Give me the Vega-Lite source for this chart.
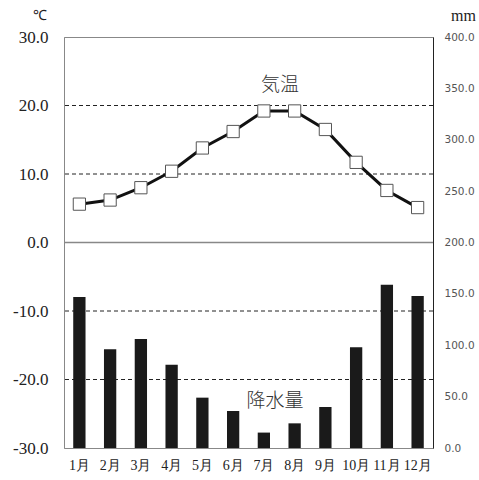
{
  "$schema": "https://vega.github.io/schema/vega-lite/v6.json",
  "width": 369,
  "height": 411,
  "autosize": {"type": "none"},
  "padding": {"left": 64, "top": 37, "right": 46, "bottom": 32},
  "background": "white",
  "config": {"view": {"stroke": "#888", "strokeWidth": 1}, "axis": {"grid": false}},
  "datasets": {
    "climate": [
      {"month": "1月", "temp": 5.6, "precip": 147},
      {"month": "2月", "temp": 6.2, "precip": 96},
      {"month": "3月", "temp": 8.0, "precip": 106},
      {"month": "4月", "temp": 10.4, "precip": 81},
      {"month": "5月", "temp": 13.8, "precip": 49},
      {"month": "6月", "temp": 16.2, "precip": 36},
      {"month": "7月", "temp": 19.2, "precip": 15},
      {"month": "8月", "temp": 19.2, "precip": 24},
      {"month": "9月", "temp": 16.5, "precip": 40},
      {"month": "10月", "temp": 11.7, "precip": 98},
      {"month": "11月", "temp": 7.6, "precip": 159},
      {"month": "12月", "temp": 5.1, "precip": 148}
    ],
    "grid": [{"v": -20}, {"v": -10}, {"v": 10}, {"v": 20}],
    "zero": [{"v": 0}],
    "labels": [
      {"month": "7月", "t": 23, "label": "気温"},
      {"month": "7月", "t": -23.1, "label": "降水量"}
    ]
  },
  "layer": [
    {
      "data": {"name": "grid"},
      "mark": {"type": "rule", "strokeDash": [4, 3], "color": "#222", "strokeWidth": 1},
      "encoding": {
        "y": {
          "field": "v", "type": "quantitative",
          "scale": {"domain": [-30, 30], "nice": false, "zero": false},
          "axis": {
            "orient": "left", "values": [-30, -20, -10, 0, 10, 20, 30],
            "labelExpr": "replace(format(datum.value, '.1f'), '\u2212', '-')",
            "ticks": false, "tickSize": 0, "domain": true, "domainColor": "#888", "grid": false,
            "labelFont": "Liberation Serif", "labelFontSize": 17, "labelColor": "#222",
            "labelPadding": 16, "labelOverlap": false,
            "title": "℃", "titleAngle": 0, "titleAlign": "center", "titleBaseline": "middle",
            "titleX": -25, "titleY": -22, "titleFont": "Liberation Serif", "titleFontSize": 14,
            "titleFontWeight": "normal", "titleColor": "#222"
          }
        }
      }
    },
    {
      "data": {"name": "zero"},
      "mark": {"type": "rule", "color": "#888", "strokeWidth": 1.5},
      "encoding": {
        "y": {"field": "v", "type": "quantitative", "scale": {"domain": [-30, 30], "nice": false, "zero": false}, "axis": null}
      }
    },
    {
      "encoding": {
        "x": {
          "field": "month", "type": "ordinal", "sort": null,
          "scale": {"paddingInner": 0, "paddingOuter": 0},
          "axis": {
            "orient": "bottom", "title": null, "ticks": false, "tickSize": 0, "domain": false,
            "labelAngle": 0, "labelFont": "Liberation Serif", "labelFontSize": 14,
            "labelColor": "#222", "labelPadding": 10
          }
        }
      },
      "layer": [
        {
          "data": {"name": "climate"},
          "mark": {"type": "bar", "color": "#1a1a1a", "width": {"band": 0.4}},
          "encoding": {
            "y": {
              "field": "precip", "type": "quantitative",
              "scale": {"domain": [0, 400], "nice": false},
              "axis": {
                "orient": "right", "values": [0, 50, 100, 150, 200, 250, 300, 350, 400], "format": ".1f",
                "ticks": false, "tickSize": 0, "domain": true, "domainColor": "#222", "grid": false,
                "labelFont": "DejaVu Sans", "labelFontSize": 10.5, "labelColor": "#555",
                "labelPadding": 11, "labelOverlap": false,
                "title": "mm", "titleAngle": 0, "titleAlign": "center", "titleBaseline": "middle",
                "titleX": 30, "titleY": -22, "titleFont": "Liberation Serif", "titleFontSize": 16,
                "titleFontWeight": "normal", "titleColor": "#222"
              }
            }
          }
        },
        {
          "data": {"name": "climate"},
          "mark": {"type": "line", "color": "#111", "strokeWidth": 3},
          "encoding": {
            "y": {"field": "temp", "type": "quantitative", "scale": {"domain": [-30, 30], "nice": false, "zero": false}, "axis": null}
          }
        },
        {
          "data": {"name": "climate"},
          "mark": {"type": "point", "shape": "square", "filled": true, "fill": "white", "stroke": "#555", "strokeWidth": 1, "size": 150, "opacity": 1},
          "encoding": {
            "y": {"field": "temp", "type": "quantitative", "scale": {"domain": [-30, 30], "nice": false, "zero": false}, "axis": null}
          }
        },
        {
          "data": {"name": "labels"},
          "transform": [{"filter": "datum.label === '気温'"}],
          "mark": {"type": "text", "font": "Noto Sans CJK JP", "fontSize": 19, "fontWeight": 300, "color": "#333", "dx": 16},
          "encoding": {
            "y": {"field": "t", "type": "quantitative", "scale": {"domain": [-30, 30], "nice": false, "zero": false}, "axis": null},
            "text": {"field": "label"}
          }
        },
        {
          "data": {"name": "labels"},
          "transform": [{"filter": "datum.label === '降水量'"}],
          "mark": {"type": "text", "font": "Noto Sans CJK JP", "fontSize": 19, "fontWeight": 300, "color": "#333", "dx": 11},
          "encoding": {
            "y": {"field": "t", "type": "quantitative", "scale": {"domain": [-30, 30], "nice": false, "zero": false}, "axis": null},
            "text": {"field": "label"}
          }
        }
      ],
      "resolve": {"scale": {"y": "independent"}}
    }
  ],
  "resolve": {"scale": {"y": "independent"}}
}
